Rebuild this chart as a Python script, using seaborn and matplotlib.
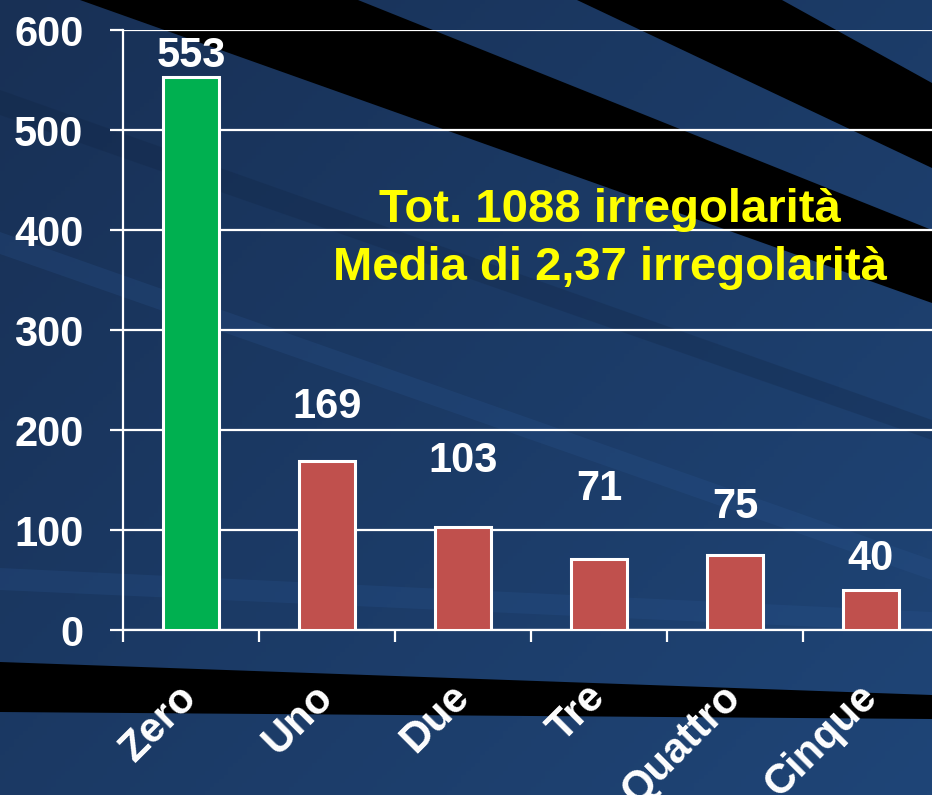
import numpy as np
import matplotlib
matplotlib.use("Agg")
import matplotlib.pyplot as plt
import seaborn as sns
from matplotlib.patches import Polygon

# data
categories = ["Zero", "Uno", "Due", "Tre", "Quattro", "Cinque"]
counts = [553, 169, 103, 71, 75, 40]
bar_colors = ["#00B050", "#C0504D", "#C0504D", "#C0504D", "#C0504D", "#C0504D"]
# how far above each bar its value label sits (data units)
label_lift = [10, 43, 55, 59, 37, 20]
note_lines = ["Tot. 1088 irregolarità", "Media di 2,37 irregolarità"]

sns.set_style("white")
plt.rcParams["font.family"] = ["Liberation Sans", "DejaVu Sans"]
plt.rcParams["font.weight"] = "bold"

W, H = 932, 795
fig = plt.figure(figsize=(W / 100, H / 100), dpi=100)

# slide background: blue gradient with black diagonal bands
bg = fig.add_axes([0, 0, 1, 1], zorder=-5)
bg.set_xlim(0, W)
bg.set_ylim(H, 0)
bg.axis("off")
gx, gy = np.meshgrid(np.linspace(0, 1, 200), np.linspace(0, 1, 200))
t = np.clip(0.55 * gx + 0.45 * gy, 0, 1)
c0 = np.array([0x18, 0x30, 0x55]) / 255
c1 = np.array([0x1F, 0x45, 0x77]) / 255
img = c0[None, None, :] * (1 - t[..., None]) + c1[None, None, :] * t[..., None]
bg.imshow(img, extent=[0, W, H, 0], aspect="auto")
# faint lighter / darker streaks
for pts, col in [([(0, 568), (932, 612), (932, 632), (0, 590)], "#2A5590"),
                 ([(0, 232), (932, 560), (932, 580), (0, 254)], "#2A5590"),
                 ([(0, 90), (932, 420), (932, 440), (0, 115)], "#10223F")]:
    bg.add_patch(Polygon(pts, closed=True, color=col, alpha=0.25, lw=0))
for pts in [[(80, 0), (358, 0), (932, 230), (932, 303)],
            [(577, 0), (782, 0), (932, 83), (932, 168)],
            [(0, 662), (932, 695), (932, 719), (0, 712)]]:
    bg.add_patch(Polygon(pts, closed=True, color="black", lw=0))

# chart axes
ax = fig.add_axes([123 / W, (H - 630) / H, 816 / W, 600 / H])
ax.patch.set_alpha(0)

sns.barplot(x=categories, y=counts, hue=categories, palette=bar_colors,
            saturation=1, width=0.41, edgecolor="white", linewidth=2.2,
            legend=False, ax=ax, zorder=3)

ax.set_xlim(-0.5, 5.5)
ax.set_ylim(0, 600)
ax.set_yticks(range(0, 601, 100))
ax.yaxis.grid(True, color="white", lw=1.6)
ax.set_axisbelow(True)

for s in ["top", "right"]:
    ax.spines[s].set_visible(False)
for s in ["left", "bottom"]:
    ax.spines[s].set_color("white")
    ax.spines[s].set_linewidth(1.6)

ax.tick_params(axis="y", left=True, colors="white", direction="out",
               length=9.5, width=1.6, pad=19, labelsize=30)
ax.set_xticks(range(len(categories)))
ax.set_xticks(np.arange(-0.5, len(categories), 1.0), minor=True)
ax.set_xticklabels(categories, rotation=45, ha="right", va="center",
                   rotation_mode="anchor")
ax.tick_params(axis="x", which="major", bottom=True, length=0, pad=44,
               labelsize=30, colors="white")
ax.tick_params(axis="x", which="minor", bottom=True, length=8.5, width=1.6,
               colors="white", direction="out")
for lab in ax.get_xticklabels() + ax.get_yticklabels():
    lab.set_fontweight("bold")
ax.set_xlabel("")
ax.set_ylabel("")

for i, (v, lift) in enumerate(zip(counts, label_lift)):
    ax.text(i, v + lift, str(v), ha="center", va="baseline", color="white",
            fontsize=30, fontweight="bold", zorder=5)

ax.text(3.08, 408, note_lines[0], ha="center", va="baseline", color="#FFFF00",
        fontsize=34, fontweight="bold", zorder=5)
ax.text(3.08, 350, note_lines[1], ha="center", va="baseline", color="#FFFF00",
        fontsize=34, fontweight="bold", zorder=5)

fig.savefig("out.png", dpi=100)
